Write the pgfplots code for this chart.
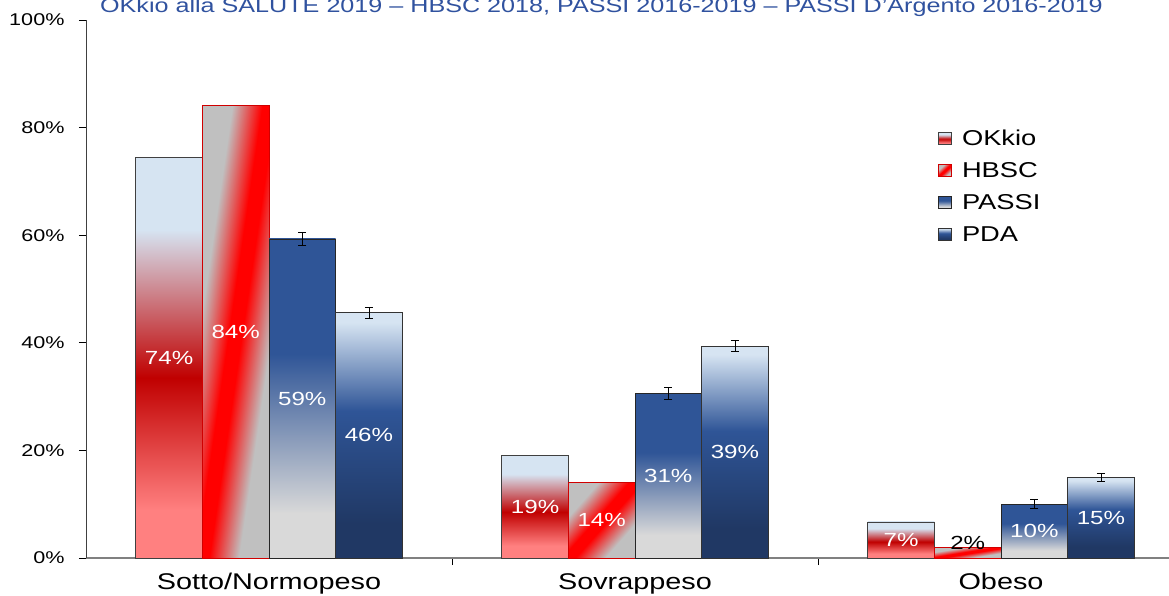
\documentclass[border=0pt]{standalone}
\usepackage{pgfplots}
\pgfplotsset{compat=1.18}
\usepackage{fontspec}
\setmainfont[FakeStretch=1.27]{Liberation Sans}
\definecolor{okLR}{HTML}{FF8080}
\definecolor{okDR}{HTML}{C00000}
\definecolor{okLB}{HTML}{D6E4F2}
\definecolor{psGR}{HTML}{D9D9D9}
\definecolor{psDB}{HTML}{2F5597}
\definecolor{pdNV}{HTML}{203864}
\definecolor{hbEdge}{HTML}{D00000}
\definecolor{titleblue}{HTML}{30529F}
\pgfdeclareverticalshading{okkio}{100bp}{color(0bp)=(okLR); color(31bp)=(okLR); color(47.5bp)=(okDR); color(66bp)=(okLB); color(100bp)=(okLB)}
\pgfdeclareverticalshading{passi}{100bp}{color(0bp)=(psGR); color(32bp)=(psGR); color(57bp)=(psDB); color(100bp)=(psDB)}
\pgfdeclareverticalshading{pda}{100bp}{color(0bp)=(pdNV); color(32bp)=(pdNV); color(55bp)=(psDB); color(73bp)=(okLB); color(100bp)=(okLB)}
% diagonal red stripe on grey, stretched to each bar (corner to corner)
\pgfdeclarefunctionalshading{hbsc}{\pgfpoint{0bp}{0bp}}{\pgfpoint{100bp}{100bp}}{}{
  sub abs 50 div
  0.55 exch sub 0.45 div
  dup 1 gt {pop 1} if
  dup 0 lt {pop 0} if
  dup 0.247 mul 0.753 add
  exch 1 exch sub 0.753 mul
  dup
}
\pgfplotsset{
  /pgf/number format/assume math mode=true,
  mybar/.style={ybar, bar width=0.182, bar shift=0pt, line width=0.9pt,
    legend image code/.code={\draw[##1,/tikz/.cd,line width=0.6pt] (0pt,-6pt) rectangle (13pt,6pt); \path (22pt,0pt);}},
  barlabel/.style={nodes near coords={\pgfmathprintnumber[fixed,precision=0]{\pgfplotspointmeta}\%},
    visualization depends on={y \as \rawy},
    every node near coord/.append style={white, font=\fontsize{19}{22}\selectfont, anchor=center, yshift=-2.69pt*\rawy}},
  myerr/.style={error bars/y dir=both, error bars/y explicit,
    error bars/error bar style={black, line width=0.8pt},
    error bars/error mark options={black, rotate=90, mark size=4pt, line width=0.8pt}},
  okS/.style={mybar, draw=black!75, shade, shading=okkio, barlabel},
  hbS/.style={mybar, draw=hbEdge, shade, shading=hbsc},
  psS/.style={mybar, draw=black!85, shade, shading=passi, barlabel, myerr},
  pdS/.style={mybar, draw=black!80, shade, shading=pda, barlabel, myerr},
}
\begin{document}
\begin{tikzpicture}
\begin{axis}[
  x=366pt, y=5.38pt,
  xmin=-0.5, xmax=2.459, ymin=0, ymax=100,
  axis x line*=bottom, axis y line*=left,
  x axis line style={draw=black!50, line width=1.6pt},
  y axis line style={draw=black!75, line width=0.8pt},
  tick align=outside, major tick length=7pt,
  tick style={black, line width=0.8pt},
  xtick={0.5,1.5}, xticklabels={,},
  extra x ticks={0,1,2},
  extra x tick labels={Sotto/Normopeso,Sovrappeso,Obeso},
  extra x tick style={major tick length=0pt},
  xticklabel style={font=\fontsize{22.7}{26}\selectfont, yshift=-12pt},
  ytick={0,20,...,100},
  yticklabel={\pgfmathprintnumber{\tick}\%},
  yticklabel style={font=\fontsize{17}{20}\selectfont, xshift=-11pt},
  title={OKkio alla SALUTE 2019 – HBSC 2018, PASSI 2016-2019 – PASSI D'Argento 2016-2019},
  title style={at={(rel axis cs:0.476,1)}, anchor=base, yshift=1pt, text=titleblue, font=\fontsize{19.8}{24}\selectfont},
  legend style={at={(rel axis cs:0.784,0.8007)}, anchor=north west, draw=none, fill=none,
    font=\fontsize{21.5}{24}\selectfont, row sep=14pt,
    nodes={inner sep=1pt, text height=15pt, text depth=1pt}},
  legend cell align=left,
]
% Sotto/Normopeso (legend entries)
\addplot[okS] coordinates {(-0.273,74.4)};
\addplot[hbS, barlabel] coordinates {(-0.091,84.2)};
\addplot[psS] coordinates {(0.091,59.3) +- (0,1.15)};
\addplot[pdS] coordinates {(0.273,45.6) +- (0,1.05)};
% Sovrappeso
\addplot[okS, forget plot] coordinates {(0.727,19.0)};
\addplot[hbS, barlabel, forget plot] coordinates {(0.909,14.0)};
\addplot[psS, forget plot] coordinates {(1.091,30.6) +- (0,1.2)};
\addplot[pdS, forget plot] coordinates {(1.273,39.4) +- (0,1.0)};
% Obeso
\addplot[okS, forget plot] coordinates {(1.727,6.7)};
\addplot[hbS, forget plot,
  nodes near coords={\pgfmathprintnumber[fixed,precision=0]{\pgfplotspointmeta}\%},
  every node near coord/.append style={black, font=\fontsize{19}{22}\selectfont, anchor=center, yshift=4pt}]
  coordinates {(1.909,2.0)};
\addplot[psS, forget plot] coordinates {(2.091,10.0) +- (0,0.85)};
\addplot[pdS, forget plot] coordinates {(2.273,15.0) +- (0,0.75)};
\legend{OKkio,HBSC,PASSI,PDA}
\coordinate (O) at (rel axis cs:0,0);
\end{axis}
\pgfresetboundingbox
\path[use as bounding box] ([shift={(-86pt,-37pt)}]O) rectangle ([shift={(1083pt,558pt)}]O);
\end{tikzpicture}
\end{document}
